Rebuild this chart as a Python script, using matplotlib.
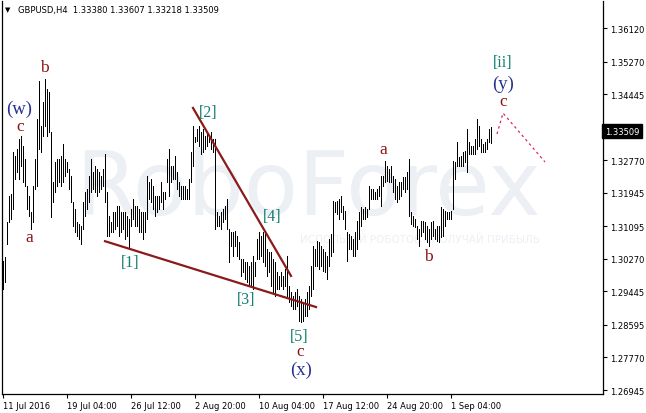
import matplotlib
matplotlib.use("Agg")
import matplotlib.pyplot as plt

# H4 bar highs / lows, GBPUSD, 11 Jul - 2 Sep 2016
highs = [
    1.3022, 1.3032, 1.3121, 1.3187, 1.3192, 1.3298, 1.3288, 1.3306, 1.3331, 1.3339,
    1.3313, 1.3281, 1.3212, 1.3187, 1.3146, 1.3212, 1.3281, 1.3382, 1.3478, 1.3364,
    1.3425, 1.3483, 1.3458, 1.3451, 1.3349, 1.3222, 1.3273, 1.3281, 1.3281, 1.3288,
    1.3319, 1.3281, 1.3273, 1.3255, 1.3237, 1.3171, 1.3154, 1.3121, 1.3116, 1.3111,
    1.3171, 1.3197, 1.3204, 1.3237, 1.3281, 1.3248, 1.3263, 1.3255, 1.3248, 1.3237,
    1.3255, 1.3293, 1.3197, 1.3136,
    1.3121, 1.3146, 1.3146, 1.3161, 1.3161, 1.3146, 1.3146, 1.3146, 1.3136, 1.3128,
    1.3154, 1.3179, 1.3161, 1.3161, 1.3154, 1.3146, 1.3146, 1.3146, 1.3237, 1.3222,
    1.3230, 1.3212, 1.3187, 1.3187, 1.3187, 1.3222, 1.3197, 1.3197, 1.3281, 1.3306,
    1.3263, 1.3263, 1.3288, 1.3248, 1.3222, 1.3212, 1.3212, 1.3212, 1.3204, 1.3230,
    1.3298, 1.3364,
    1.3336, 1.3357, 1.3364, 1.3349, 1.3357, 1.3339, 1.3349, 1.3339, 1.3349, 1.3331,
    1.3331, 1.3146, 1.3136, 1.3146, 1.3154, 1.3161, 1.3179, 1.3103, 1.3095, 1.3095,
    1.3098, 1.3085, 1.3070, 1.3027, 1.3027, 1.3019, 1.3019, 1.3009, 1.3019, 1.3034,
    1.3019, 1.3078, 1.3095, 1.3085, 1.3095, 1.3095, 1.3052, 1.3045, 1.3045, 1.3027,
    1.3019, 1.2994, 1.2984, 1.2994, 1.2984, 1.3001, 1.3034, 1.2958, 1.2943, 1.2933,
    1.2943, 1.2951, 1.2933, 1.2925, 1.2918, 1.2925, 1.2943, 1.2958, 1.3009, 1.3060,
    1.3052, 1.3073, 1.3070, 1.3060, 1.3052, 1.3045, 1.3034, 1.3078, 1.3090, 1.3174,
    1.3171, 1.3174, 1.3179, 1.3187, 1.3161, 1.3149, 1.3095, 1.3090, 1.3085, 1.3078,
    1.3095, 1.3123, 1.3146, 1.3159, 1.3154, 1.3159, 1.3154, 1.3212, 1.3204, 1.3204,
    1.3197, 1.3204, 1.3212, 1.3237, 1.3237, 1.3275, 1.3263, 1.3255, 1.3263, 1.3237,
    1.3230, 1.3212, 1.3222, 1.3222, 1.3235, 1.3235, 1.3248, 1.3281, 1.3146, 1.3136,
    1.3128, 1.3111, 1.3103, 1.3123, 1.3123, 1.3121, 1.3111, 1.3103, 1.3121, 1.3123,
    1.3103, 1.3111, 1.3111, 1.3159, 1.3154, 1.3149, 1.3146, 1.3146, 1.3149, 1.3275,
    1.3273, 1.3324, 1.3286, 1.3288, 1.3298, 1.3301, 1.3357, 1.3324, 1.3313, 1.3313,
    1.3331, 1.3382, 1.3364, 1.3331, 1.3319, 1.3324, 1.3331, 1.3357, 1.33607,
]
lows = [
    1.2951, 1.2969, 1.3065, 1.3121, 1.3128, 1.3154, 1.3230, 1.3248, 1.3230, 1.3263,
    1.3222, 1.3212, 1.3154, 1.3136, 1.3103, 1.3121, 1.3204, 1.3212, 1.3306, 1.3298,
    1.3339, 1.3364, 1.3339, 1.3349, 1.3133, 1.3171, 1.3197, 1.3212, 1.3222, 1.3212,
    1.3222, 1.3237, 1.3248, 1.3204, 1.3171, 1.3111, 1.3095, 1.3085, 1.3078, 1.3065,
    1.3103, 1.3136, 1.3154, 1.3171, 1.3197, 1.3204, 1.3197, 1.3187, 1.3197, 1.3204,
    1.3212, 1.3171, 1.3085, 1.3085,
    1.3095, 1.3095, 1.3103, 1.3111, 1.3085, 1.3095, 1.3103, 1.3078, 1.3085, 1.3052,
    1.3111, 1.3128, 1.3111, 1.3111, 1.3095, 1.3095, 1.3078, 1.3095, 1.3128, 1.3179,
    1.3171, 1.3154, 1.3136, 1.3146, 1.3154, 1.3171, 1.3154, 1.3179, 1.3222, 1.3187,
    1.3222, 1.3230, 1.3230, 1.3204, 1.3187, 1.3179, 1.3179, 1.3179, 1.3179, 1.3179,
    1.3222, 1.3263,
    1.3324, 1.3326, 1.3313, 1.3293, 1.3298, 1.3306, 1.3313, 1.3324, 1.3306, 1.3298,
    1.3103, 1.3111, 1.3111, 1.3103, 1.3121, 1.3128, 1.3103, 1.3019, 1.3060, 1.3034,
    1.3060, 1.3034, 1.3027, 1.2984, 1.2994, 1.2976, 1.2969, 1.2958, 1.2958, 1.2951,
    1.2984, 1.3027, 1.3027, 1.3034, 1.3019, 1.3009, 1.2984, 1.2994, 1.2958, 1.2943,
    1.2933, 1.2951, 1.2951, 1.2958, 1.2951, 1.2958, 1.2933, 1.2918, 1.2908, 1.2900,
    1.2900, 1.2908, 1.2870, 1.2867, 1.2870, 1.2882, 1.2882, 1.2900, 1.2933, 1.2951,
    1.3009, 1.3009, 1.3001, 1.3009, 1.2996, 1.2994, 1.2976, 1.3009, 1.3034, 1.3045,
    1.3146, 1.3141, 1.3128, 1.3146, 1.3128, 1.3103, 1.3022, 1.3052, 1.3052, 1.3034,
    1.3034, 1.3052, 1.3078, 1.3111, 1.3128, 1.3128, 1.3133, 1.3154, 1.3179, 1.3179,
    1.3179, 1.3179, 1.3187, 1.3161, 1.3212, 1.3222, 1.3225, 1.3222, 1.3222, 1.3197,
    1.3179, 1.3171, 1.3179, 1.3187, 1.3204, 1.3197, 1.3204, 1.3136, 1.3116, 1.3111,
    1.3108, 1.3078, 1.3060, 1.3085, 1.3095, 1.3078, 1.3070, 1.3060, 1.3078, 1.3085,
    1.3078, 1.3073, 1.3070, 1.3083, 1.3085, 1.3111, 1.3128, 1.3128, 1.3128, 1.3154,
    1.3230, 1.3263, 1.3263, 1.3263, 1.3263, 1.3273, 1.3248, 1.3293, 1.3293, 1.3293,
    1.3293, 1.3306, 1.3313, 1.3298, 1.3298, 1.3298, 1.3306, 1.3324, 1.33218,
]

last_bar = [1.33380, 1.33607, 1.33218, 1.33509]   # O H L C

price_ticks = [1.36120, 1.35270, 1.34445, 1.33620, 1.32770, 1.31945,
               1.31095, 1.30270, 1.29445, 1.28595, 1.27770, 1.26945]
time_tick_bars = [0, 32, 64, 96, 128, 160, 192, 224]
time_tick_labels = ["11 Jul 2016", "19 Jul 04:00", "26 Jul 12:00", "2 Aug 20:00",
                    "10 Aug 04:00", "17 Aug 12:00", "24 Aug 20:00", "1 Sep 04:00"]

# wave marks: text, bar, price, kind
wave_labels = [
    ("b", 20.5, 1.3514, "minor"), ("(w)", 8, 1.3410, "inter"), ("c", 8.5, 1.3364, "minor"),
    ("a", 13, 1.3083, "minor"), ("[1]", 63.5, 1.3019, "minute"), ("[2]", 102.5, 1.3400, "minute"),
    ("[3]", 121.5, 1.2925, "minute"), ("[4]", 134.5, 1.3136, "minute"), ("[5]", 148, 1.2831, "minute"),
    ("c", 148.5, 1.2793, "minor"), ("(x)", 149, 1.2748, "inter"), ("a", 190, 1.3306, "minor"),
    ("b", 212.5, 1.3034, "minor"), ("[ii]", 250, 1.3527, "minute"), ("(y)", 250, 1.3473, "inter"),
    ("c", 250, 1.3428, "minor"),
]
wave_style = {"minor": ("#8b1212", 12.5), "inter": ("#26308f", 13.5), "minute": ("#11806e", 11.5)}

upper_line_bars = [95, 144]
upper_line_prices = [1.3410, 1.2984]
lower_line_bars = [51, 156.5]
lower_line_prices = [1.3072, 1.2905]
forecast_bars = [247, 250, 271]
forecast_prices = [1.3344, 1.3397, 1.3273]

W, H = 646, 414
fig = plt.figure(figsize=(W / 100, H / 100), dpi=100)
ax = fig.add_axes([2 / W, (H - 395) / H, 601 / W, 393 / H])

# watermark
ax.text(36, 1.3204, "RoboForex", fontsize=64, color="#ecf0f4", ha="left", va="center",
        family="DejaVu Sans", zorder=0)
ax.text(148.5, 1.3078, "ИСПОЛЬЗУЙ РОБОТОВ - ПОЛУЧАЙ ПРИБЫЛЬ", fontsize=7.5,
        color="#ecf0f4", ha="left", va="center", zorder=0)

idx = list(range(len(highs)))
ax.vlines(idx, lows, highs, color="black", linewidth=0.55, antialiased=False, zorder=2)

ax.plot(upper_line_bars, upper_line_prices, color="#8b1a1a", linewidth=1.6, zorder=3)
ax.plot(lower_line_bars, lower_line_prices, color="#8b1a1a", linewidth=1.6, zorder=3)
ax.plot(forecast_bars, forecast_prices, color="#e0245a", linewidth=0.9,
        linestyle=(0, (2, 2.5)), zorder=3)

for txt, b, p, kind in wave_labels:
    col, fs = wave_style[kind]
    ax.text(b, p, txt, color=col, fontsize=fs, family="Liberation Serif",
            ha="center", va="center", zorder=4)

ax.set_xlim(-0.5, 300)
ax.set_ylim(1.26844, 1.36813)

ax.yaxis.tick_right()
ax.set_yticks(price_ticks)
# the 1.33620 label sits under the current price box
ax.set_yticklabels(["" if abs(v - last_bar[3]) < 0.002 else f"{v:.5f}" for v in price_ticks])
ax.set_xticks(time_tick_bars)
ax.set_xticklabels(time_tick_labels, ha="left")
ax.tick_params(axis="both", labelsize=6.0, length=3, width=0.8, color="black", pad=2)
for lab in ax.get_xticklabels() + ax.get_yticklabels():
    lab.set_family("DejaVu Sans")

ax.spines["top"].set_visible(False)
for s in ["left", "right", "bottom"]:
    ax.spines[s].set_linewidth(0.9)

# current price box
ax.text(1.003, last_bar[3], f"{last_bar[3]:.5f}", transform=ax.get_yaxis_transform(),
        ha="left", va="center", color="white", fontsize=6.0, family="DejaVu Sans",
        bbox=dict(boxstyle="square,pad=0.3", fc="black", ec="black"), clip_on=False, zorder=10)

# chart header
fig.text(5 / W, 1 - 10 / H, "\u25bc", fontsize=5, va="center", ha="left", family="DejaVu Sans")
fig.text(18 / W, 1 - 10 / H,
         f"GBPUSD,H4  {last_bar[0]:.5f} {last_bar[1]:.5f} {last_bar[2]:.5f} {last_bar[3]:.5f}",
         fontsize=6.0, va="center", ha="left", family="DejaVu Sans")

fig.savefig("out.png", dpi=100)
